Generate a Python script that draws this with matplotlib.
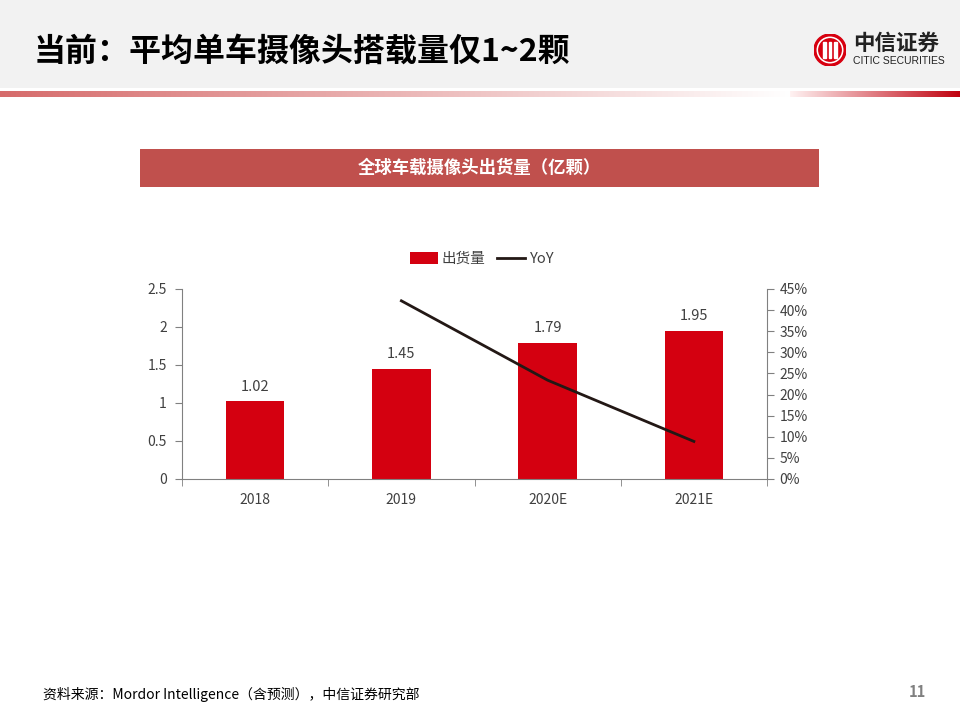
import matplotlib
matplotlib.use("Agg")
import matplotlib.pyplot as plt
import numpy as np
from matplotlib.patches import Rectangle, Circle

plt.rcParams['font.family'] = ['Noto Sans CJK SC', 'DejaVu Sans']

categories = ['2018', '2019', '2020E', '2021E']
shipments = [1.02, 1.45, 1.79, 1.95]
yoy = [None, 42.2, 23.4, 8.9]
left_ticks = [0, 0.5, 1, 1.5, 2, 2.5]
left_labels = ['0', '0.5', '1', '1.5', '2', '2.5']
right_ticks = [0, 5, 10, 15, 20, 25, 30, 35, 40, 45]

BAR_RED = '#D40010'
BANNER = '#C0504D'
TXT = '#404040'

fig = plt.figure(figsize=(9.6, 7.2), dpi=100)
fig.patch.set_facecolor('white')

# header background
bg = fig.add_axes([0, 1 - 88/720, 1, 88/720])
bg.set_xlim(0, 1); bg.set_ylim(0, 1); bg.axis('off')
bg.add_patch(Rectangle((0, 0), 1, 1, color='#F2F2F2'))

# gradient line
gl = fig.add_axes([0, 1 - 97/720, 1, 6/720])
gl.axis('off')
w = 960
grad = np.ones((1, w, 3))
c1 = np.array([0.84, 0.42, 0.42])
for i in range(w):
    if i < 790:
        t = i / 790
        grad[0, i] = c1 * (1 - t) + np.array([1, 1, 1]) * t
    else:
        t = (i - 790) / 170
        grad[0, i] = np.array([1, 0.95, 0.95]) * (1 - t) + np.array([0.75, 0.0, 0.05]) * t
gl.imshow(grad, aspect='auto', extent=(0, 1, 0, 1))
gl.set_xlim(0, 1)

fig.text(34/960, 1 - 52/720, '当前：平均单车摄像头搭载量仅1~2颗', fontsize=23,
         fontweight='heavy', color='black', va='center', ha='left')

# logo
lg = fig.add_axes([814/960, 1 - 66/720, 32/960, 32/720])
lg.set_xlim(-1, 1); lg.set_ylim(-1, 1); lg.axis('off'); lg.set_aspect('equal')
lg.add_patch(Circle((0, 0), 1, color='#D7000F'))
lg.add_patch(Circle((0, 0), 0.8, color='white'))
lg.add_patch(Circle((0, 0), 0.7, color='#D7000F'))
for xx in [-0.35, 0, 0.35]:
    lg.add_patch(Rectangle((xx - 0.07, -0.5), 0.14, 1.0, color='white'))
fig.text(853/960, 1 - 43/720, '中信证券', fontsize=15.5, fontweight='bold', color='#222222', va='center')
fig.text(853/960, 1 - 61/720, 'CITIC SECURITIES', fontsize=7.5, color='#222222', va='center',
         family=['Liberation Sans Narrow', 'Liberation Sans'])

# chart title banner
bn = fig.add_axes([140/960, 1 - 187/720, 679/960, 38/720])
bn.set_xlim(0, 1); bn.set_ylim(0, 1); bn.axis('off')
bn.add_patch(Rectangle((0, 0), 1, 1, color=BANNER))
bn.text(0.5, 0.5, '全球车载摄像头出货量（亿颗）', color='white', fontsize=12.5,
        fontweight='bold', ha='center', va='center')

# main axes
ax = fig.add_axes([182/960, 1 - 479/720, 585/960, 190/720])
x = np.arange(len(categories))
ax.bar(x, shipments, width=0.4, color=BAR_RED, label='出货量', zorder=2)
for xi, v in zip(x, shipments):
    ax.text(xi, v + 0.1, f'{v:.2f}', ha='center', va='bottom', fontsize=10.5, color=TXT)
ax.set_xlim(-0.5, len(categories) - 0.5)
ax.set_ylim(0, 2.5)
ax.set_yticks(left_ticks)
ax.set_yticklabels(left_labels, color=TXT, fontsize=10)
ax.set_xticks(x)
ax.set_xticklabels(categories, color=TXT, fontsize=10)
ax.tick_params(axis='x', length=0, pad=10)
ax.set_xticks(np.arange(-0.5, len(categories)), minor=True)
ax.tick_params(axis='x', which='minor', length=5, color='#808080', direction='out')
ax.tick_params(axis='y', length=5, color='#808080', direction='out', pad=6)
for s in ['top', 'right']:
    ax.spines[s].set_visible(False)
ax.spines['left'].set_color('#808080')
ax.spines['bottom'].set_color('#808080')

ax2 = ax.twinx()
xs = [xi for xi, v in zip(x, yoy) if v is not None]
ys = [v for v in yoy if v is not None]
ax2.plot(xs, ys, color='#231815', lw=2, label='YoY', zorder=3)
ax2.set_ylim(0, 45)
ax2.set_yticks(right_ticks)
ax2.set_yticklabels([f'{t}%' for t in right_ticks], color=TXT, fontsize=10)
ax2.tick_params(axis='y', length=5, color='#808080', direction='out', pad=4)
for s in ['top', 'left', 'bottom']:
    ax2.spines[s].set_visible(False)
ax2.spines['right'].set_color('#808080')

h1, l1 = ax.get_legend_handles_labels()
h2, l2 = ax2.get_legend_handles_labels()
fig.legend(h1 + h2, l1 + l2, loc='center', bbox_to_anchor=(482/960, 1 - 259/720), ncol=2,
           frameon=False, fontsize=10.5, handlelength=1.9, handleheight=0.8, columnspacing=0.8,
           handletextpad=0.3, labelcolor=TXT)

# footer
fig.text(43/960, 1 - 694/720, '资料来源：Mordor Intelligence（含预测），中信证券研究部',
         fontsize=10, color='black', va='center', ha='left')
fig.text(926/960, 1 - 692/720, '11', fontsize=10.5, color='#808080', va='center', ha='right',
         fontweight='bold')

fig.savefig('out.png', dpi=100)
